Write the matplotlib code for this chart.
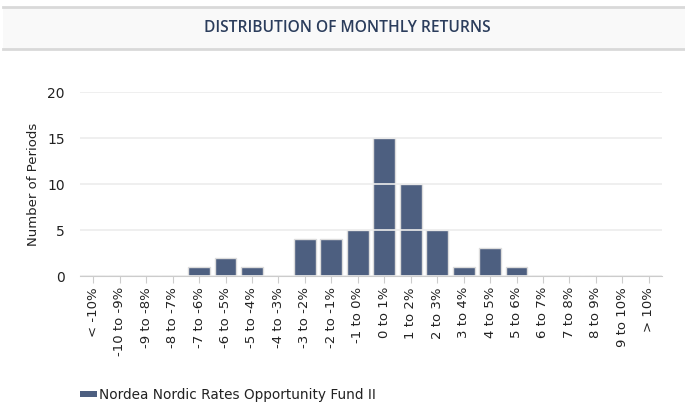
import matplotlib
matplotlib.use("Agg")
import matplotlib.pyplot as plt
from matplotlib.patches import Rectangle
import numpy as np

# return buckets and number of months in each
buckets = ['< -10%', '-10 to -9%', '-9 to -8%', '-8 to -7%', '-7 to -6%',
           '-6 to -5%', '-5 to -4%', '-4 to -3%', '-3 to -2%', '-2 to -1%',
           '-1 to 0%', '0 to 1%', '1 to 2%', '2 to 3%', '3 to 4%', '4 to 5%',
           '5 to 6%', '6 to 7%', '7 to 8%', '8 to 9%', '9 to 10%', '> 10%']
periods = [0, 0, 0, 0, 1, 2, 1, 0, 4, 4, 5, 15, 10, 5, 1, 3, 1, 0, 0, 0, 0, 0]
fund_name = 'Nordea Nordic Rates Opportunity Fund II'
chart_title = 'DISTRIBUTION OF MONTHLY RETURNS'

bar_color = '#4d5f80'
W, H = 685, 405

fig = plt.figure(figsize=(W / 100, H / 100), dpi=100)
fig.patch.set_facecolor('white')

# title band
fig.patches.append(Rectangle((3 / W, 1 - 49 / H), 1 - 3 / W, 42 / H,
                             transform=fig.transFigure, facecolor='#f9f9f9',
                             edgecolor='none', zorder=0))
for yy in (7, 49):
    fig.add_artist(plt.Line2D([3 / W, 1], [1 - yy / H, 1 - yy / H],
                              transform=fig.transFigure, color='#d9d9d9', lw=2))
fig.text(347 / W, 1 - 28 / H, chart_title, ha='center', va='center',
         fontsize=11.2, fontweight='semibold', family='Open Sans', color='#2b3d5c')

ax = fig.add_axes([80 / W, 1 - 276 / H, 582 / W, 184 / H])
x = np.arange(len(buckets))
ax.bar(x, periods, width=0.83, color=bar_color, edgecolor='#dcdcdc',
       linewidth=1, zorder=2)
ax.set_xlim(-0.5, len(buckets) - 0.5)
ax.set_ylim(0, 20)
ax.set_yticks([0, 5, 10, 15, 20])
ax.yaxis.grid(True, color='#ececec', linewidth=1.2, zorder=3)
ax.set_axisbelow(False)
for s in ('top', 'right', 'left'):
    ax.spines[s].set_visible(False)
ax.spines['bottom'].set_color('#cccccc')
ax.spines['bottom'].set_zorder(4)
ax.set_xticks(x)
ax.set_xticklabels(buckets, rotation=90, fontsize=9.5, family='DejaVu Sans',
                   color='#222222')
ax.tick_params(axis='x', length=5, color='#cccccc', pad=3)
ax.tick_params(axis='y', length=0, labelsize=10, labelcolor='#222222', pad=11)
ax.set_ylabel('Number of Periods', fontsize=9.5, color='#222222', labelpad=5)

# legend
fig.patches.append(Rectangle((80 / W, 1 - 397 / H), 17 / W, 6 / H,
                             transform=fig.transFigure, facecolor=bar_color,
                             edgecolor='none'))
fig.text(99 / W, 1 - 395 / H, fund_name, ha='left', va='center',
         fontsize=9.8, color='#222222')

fig.savefig('out.png', dpi=100)
